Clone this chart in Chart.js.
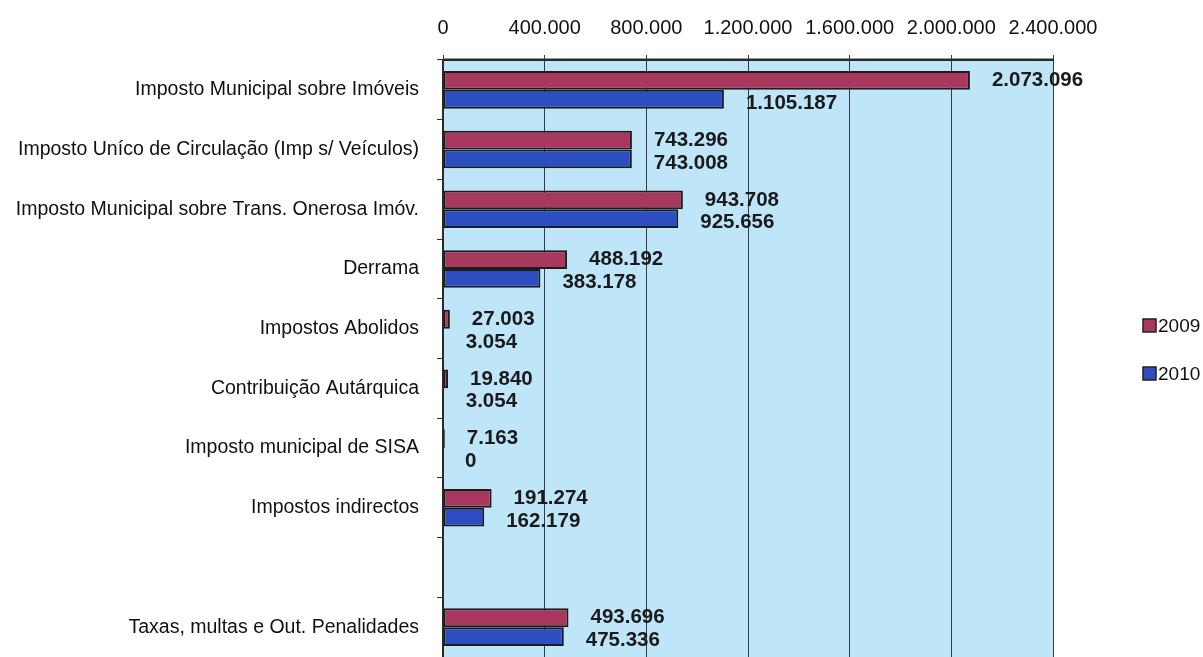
<!DOCTYPE html>
<html>
<head>
<meta charset="utf-8">
<script src="https://cdn.jsdelivr.net/npm/chart.js@4/dist/chart.umd.min.js"></script>
<style>
  html, body { margin: 0; padding: 0; background: #fff; }
  #wrap { width: 1203px; height: 657px; }
</style>
</head>
<body>
<div id="wrap"><canvas id="impostosChart"></canvas></div>
<script>
// categorias (linha vazia entre indirectos e taxas)
const categories = [
    'Imposto Municipal sobre Imóveis',
    'Imposto Uníco de Circulação (Imp s/ Veículos)',
    'Imposto Municipal sobre Trans. Onerosa Imóv.',
    'Derrama',
    'Impostos Abolidos',
    'Contribuição Autárquica',
    'Imposto municipal de SISA',
    'Impostos indirectos',
    '',
    'Taxas, multas e Out. Penalidades'
];
const values2009 = [2073096, 743296, 943708, 488192, 27003, 19840, 7163, 191274, null, 493696];
const values2010 = [1105187, 743008, 925656, 383178, 3054, 3054, 0, 162179, null, 475336];
const seriesNames = ['2009', '2010'];
const xTicks = [0, 400000, 800000, 1200000, 1600000, 2000000, 2400000];

// 2073096 -> 2.073.096
const fmt = (v) => String(v).replace(/\B(?=(\d{3})+(?!\d))/g, '.');

// fundo azul claro da area do grafico
const plotBackground = {
    id: 'plotBackground',
    beforeDraw(chart) {
        const { ctx, chartArea: a } = chart;
        ctx.save();
        ctx.fillStyle = '#bfe5f8';
        ctx.fillRect(a.left, a.top, a.right - a.left, a.bottom - a.top);
        ctx.strokeStyle = '#8c9aa3';
        ctx.lineWidth = 1;
        ctx.strokeRect(a.left + 0.5, a.top - 1.5, a.right - a.left, a.bottom - a.top + 4);
        ctx.restore();
    }
};

// valores ao lado das barras
const valueLabels = {
    id: 'valueLabels',
    afterDatasetsDraw(chart) {
        const ctx = chart.ctx;
        ctx.save();
        ctx.font = 'bold 20.5px "Liberation Sans", Arial, sans-serif';
        ctx.fillStyle = '#1a1a1a';
        ctx.textAlign = 'left';
        ctx.textBaseline = 'middle';
        chart.data.datasets.forEach((ds, i) => {
            chart.getDatasetMeta(i).data.forEach((bar, j) => {
                const v = ds.data[j];
                if (v === null) return;
                ctx.fillText(fmt(v), bar.x + 22, bar.y + (i === 1 ? 4 : 0));
            });
        });
        ctx.restore();
    }
};

// legenda a direita
const sideLegend = {
    id: 'sideLegend',
    afterDraw(chart) {
        const ctx = chart.ctx;
        ctx.save();
        ctx.font = '19px "Liberation Sans", Arial, sans-serif';
        ctx.textBaseline = 'middle';
        chart.data.datasets.forEach((ds, i) => {
            const y = 326 + i * 48;
            ctx.fillStyle = ds.backgroundColor;
            ctx.fillRect(1143, y - 7, 13, 13);
            ctx.strokeStyle = '#222';
            ctx.lineWidth = 1.5;
            ctx.strokeRect(1143, y - 7, 13, 13);
            ctx.fillStyle = '#111';
            ctx.fillText(ds.label, 1158, y + 1);
        });
        ctx.restore();
    }
};

const chart = new Chart(document.getElementById('impostosChart'), {
    type: 'bar',
    data: {
        labels: categories,
        datasets: [
            {
                label: seriesNames[0],
                data: values2009,
                backgroundColor: '#a8385e',
                borderColor: '#1c1c1c',
                borderWidth: 2,
                borderSkipped: false
            },
            {
                label: seriesNames[1],
                data: values2010,
                backgroundColor: '#2c4ec0',
                borderColor: '#1c1c1c',
                borderWidth: 2,
                borderSkipped: false
            }
        ]
    },
    options: {
        indexAxis: 'y',
        responsive: true,
        maintainAspectRatio: false,
        animation: false,
        categoryPercentage: 0.63,
        barPercentage: 1.0,
        layout: { padding: { top: 1, right: 150, bottom: -8, left: 0 } },
        plugins: {
            legend: { display: false },
            tooltip: { enabled: false }
        },
        scales: {
            x: {
                position: 'top',
                min: 0,
                max: 2400000,
                afterBuildTicks: (scale) => { scale.ticks = xTicks.map(v => ({ value: v })); },
                ticks: {
                    callback: (v) => fmt(v),
                    color: '#111',
                    font: { family: '"Liberation Sans", Arial, sans-serif', size: 20 },
                    padding: 15,
                    maxRotation: 0
                },
                grid: { color: '#3a3a3a', lineWidth: 1, tickLength: 5 },
                border: { color: '#2a2a2a', width: 2 }
            },
            y: {
                afterFit: (scale) => {
                    scale.width = 443;
                    scale.paddingTop = 0;
                    scale.paddingBottom = 0;
                },
                ticks: {
                    color: '#111',
                    font: { family: '"Liberation Sans", Arial, sans-serif', size: 19.5 },
                    padding: 18
                },
                grid: { drawOnChartArea: false, tickLength: 6, color: '#333' },
                border: { color: '#2a2a2a', width: 2 }
            }
        }
    },
    plugins: [plotBackground, valueLabels, sideLegend]
});
</script>
</body>
</html>
